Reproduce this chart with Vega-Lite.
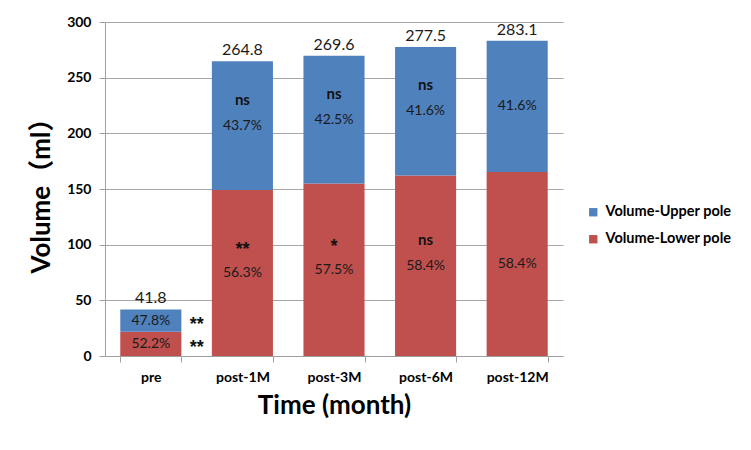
{
  "$schema": "https://vega.github.io/schema/vega-lite/v6.json",
  "width": 458,
  "height": 334,
  "autosize": {"type": "none"},
  "padding": {"left": 105, "top": 22, "right": 188, "bottom": 94},
  "background": "white",
  "config": {
    "font": "Lato",
    "view": {"stroke": null},
    "axis": {"domainColor": "#a0a0a0", "gridColor": "#a6a6a6", "tickColor": "#a0a0a0"}
  },
  "data": {
    "values": [
      {"cat": "pre", "part": "Volume-Lower pole", "value": 21.8, "pct": "52.2%", "sig": "**"},
      {"cat": "pre", "part": "Volume-Upper pole", "value": 20.0, "pct": "47.8%", "sig": "**"},
      {"cat": "post-1M", "part": "Volume-Lower pole", "value": 149.1, "pct": "56.3%", "sig": "**"},
      {"cat": "post-1M", "part": "Volume-Upper pole", "value": 115.7, "pct": "43.7%", "sig": "ns"},
      {"cat": "post-3M", "part": "Volume-Lower pole", "value": 155.0, "pct": "57.5%", "sig": "*"},
      {"cat": "post-3M", "part": "Volume-Upper pole", "value": 114.6, "pct": "42.5%", "sig": "ns"},
      {"cat": "post-6M", "part": "Volume-Lower pole", "value": 162.1, "pct": "58.4%", "sig": "ns"},
      {"cat": "post-6M", "part": "Volume-Upper pole", "value": 115.4, "pct": "41.6%", "sig": "ns"},
      {"cat": "post-12M", "part": "Volume-Lower pole", "value": 165.3, "pct": "58.4%", "sig": ""},
      {"cat": "post-12M", "part": "Volume-Upper pole", "value": 117.8, "pct": "41.6%", "sig": ""}
    ]
  },
  "transform": [
    {"stack": "value", "groupby": ["cat"], "sort": [{"field": "part", "order": "ascending"}], "as": ["y0", "y1"]},
    {"calculate": "(datum.y0 + datum.y1) / 2", "as": "mid"}
  ],
  "encoding": {
    "x": {
      "field": "cat",
      "type": "nominal",
      "sort": ["pre", "post-1M", "post-3M", "post-6M", "post-12M"],
      "scale": {"paddingInner": 0.333, "paddingOuter": 0.1667},
      "axis": {
        "title": "Time (month)",
        "titleFontSize": 26,
        "titleFontWeight": "bold",
        "titleColor": "#000000",
        "titlePadding": 8,
        "labelAngle": 0,
        "labelFontSize": 14,
        "labelFontWeight": "bold",
        "labelColor": "#000000",
        "labelPadding": 8,
        "tickBand": "extent",
        "tickSize": 6,
        "grid": false
      }
    }
  },
  "layer": [
    {
      "mark": {"type": "bar"},
      "encoding": {
        "y": {
          "field": "y0",
          "type": "quantitative",
          "scale": {"domain": [0, 300], "nice": false},
          "axis": {
            "title": "Volume（ml）",
            "titleFont": "Lato, Noto Sans CJK SC",
            "titleFontSize": 26,
            "titleFontWeight": "bold",
            "titleColor": "#000000",
            "titlePadding": 12,
            "values": [0, 50, 100, 150, 200, 250, 300],
            "labelFontSize": 14,
            "labelFontWeight": "bold",
            "labelColor": "#000000",
            "labelPadding": 8,
            "tickSize": 6,
            "grid": true
          }
        },
        "y2": {"field": "y1"},
        "color": {
          "field": "part",
          "type": "nominal",
          "scale": {"domain": ["Volume-Upper pole", "Volume-Lower pole"], "range": ["#4F81BD", "#C0504D"]},
          "legend": {
            "title": null,
            "orient": "none",
            "legendX": 481,
            "legendY": 183,
            "symbolType": "square",
            "symbolSize": 70,
            "symbolStrokeWidth": 0,
            "labelFontSize": 14.5,
            "labelFontWeight": "bold",
            "labelColor": "#000000",
            "rowPadding": 12,
            "labelOffset": 5
          }
        }
      }
    },
    {
      "mark": {"type": "text", "fontSize": 14, "color": "#1a1a1a", "baseline": "middle"},
      "encoding": {
        "y": {"field": "mid", "type": "quantitative"},
        "text": {"field": "pct"}
      }
    },
    {
      "transform": [{"filter": "datum.cat != 'pre' && datum.sig == 'ns'"}],
      "mark": {"type": "text", "fontSize": 15, "fontWeight": "bold", "color": "#111111", "baseline": "middle", "dy": -26},
      "encoding": {
        "y": {"field": "mid", "type": "quantitative"},
        "text": {"field": "sig"}
      }
    },
    {
      "transform": [{"filter": "datum.cat != 'pre' && (datum.sig == '*' || datum.sig == '**')"}],
      "mark": {"type": "text", "font": "Liberation Sans", "fontSize": 18, "fontWeight": "bold", "color": "#111111", "baseline": "middle", "dy": -23},
      "encoding": {
        "y": {"field": "mid", "type": "quantitative"},
        "text": {"field": "sig"}
      }
    },
    {
      "transform": [{"filter": "datum.cat == 'pre'"}],
      "mark": {"type": "text", "font": "Liberation Sans", "fontSize": 18, "fontWeight": "bold", "color": "#111111", "baseline": "middle", "dx": 46, "dy": 4},
      "encoding": {
        "y": {"field": "mid", "type": "quantitative"},
        "text": {"field": "sig"}
      }
    },
    {
      "transform": [{"aggregate": [{"op": "sum", "field": "value", "as": "total"}], "groupby": ["cat"]}],
      "mark": {"type": "text", "fontSize": 16, "color": "#1a1a1a", "baseline": "bottom", "dy": -3},
      "encoding": {
        "y": {"field": "total", "type": "quantitative"},
        "text": {"field": "total", "format": ".1f"}
      }
    }
  ]
}
